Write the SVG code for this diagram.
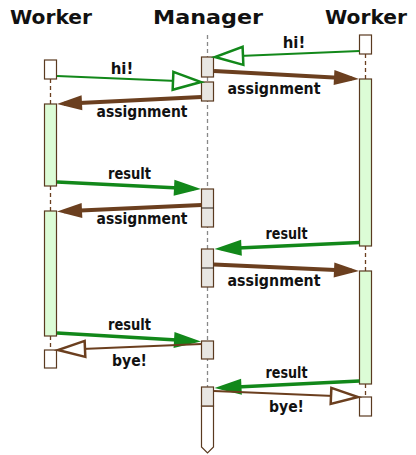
<svg xmlns="http://www.w3.org/2000/svg" width="416" height="455" viewBox="0 0 416 455">
<style>
.title{font-family:"DejaVu Sans","Liberation Sans",sans-serif;font-weight:bold;font-size:20px;fill:#111;text-anchor:middle}
.lbl{font-family:"DejaVu Sans","Liberation Sans",sans-serif;font-weight:bold;font-size:15px;fill:#111;text-anchor:middle}
.box{fill:#fff;stroke:#5a3a20;stroke-width:1.2}
.gbox{fill:#e8e6e2;stroke:#5a3a20;stroke-width:1.2}
.act{fill:#dcfcd6;stroke:#5a3a20;stroke-width:1.2}
.div{stroke:#2a2018;stroke-width:1}
.llw{stroke:#6b3f1f;stroke-width:1.3;stroke-dasharray:4 3}
.llm{stroke:#888;stroke-width:1.3;stroke-dasharray:4 3}
.gthin{stroke:#12881a;stroke-width:2;fill:none}
.gthick{stroke:#12881a;stroke-width:3.5;fill:none}
.bthin{stroke:#6b3f1f;stroke-width:2;fill:none}
.bthick{stroke:#6b3f1f;stroke-width:4;fill:none}
</style>
<defs>
<marker id="bFill" markerUnits="userSpaceOnUse" markerWidth="26" markerHeight="16" refX="18" refY="7.5" orient="auto" overflow="visible">
<path d="M0,0 L25,7.5 L0,15 z" fill="#6b3f1f"/>
</marker>
<marker id="gFill" markerUnits="userSpaceOnUse" markerWidth="28" markerHeight="17" refX="20" refY="8" orient="auto" overflow="visible">
<path d="M0,0 L27,8 L0,16 z" fill="#12881a"/>
</marker>
<marker id="gOpen" markerUnits="userSpaceOnUse" markerWidth="30" markerHeight="20" refX="28" refY="9" orient="auto" overflow="visible">
<path d="M0,0 L28,9 L0,18 z" fill="#fff" stroke="#12881a" stroke-width="2.5" stroke-linejoin="miter"/>
</marker>
<marker id="bOpen" markerUnits="userSpaceOnUse" markerWidth="30" markerHeight="18" refX="27" refY="8" orient="auto" overflow="visible">
<path d="M0,0 L27,8 L0,16 z" fill="#fff" stroke="#6b3f1f" stroke-width="2.5" stroke-linejoin="miter"/>
</marker>
</defs>
<rect width="416" height="455" fill="#fff"/>

<g id="worker-left">
<text class="title" x="51" y="24" textLength="82" lengthAdjust="spacingAndGlyphs">Worker</text>
<line class="llw" x1="50.5" y1="79" x2="50.5" y2="104"/>
<line class="llw" x1="50.5" y1="186" x2="50.5" y2="211"/>
<line class="llw" x1="50.5" y1="336" x2="50.5" y2="350"/>
<rect class="box" x="44.5" y="60" width="12" height="19"/>
<rect class="act" x="44.5" y="104" width="12" height="82"/>
<rect class="act" x="44.5" y="211" width="12" height="125"/>
<rect class="box" x="44.5" y="350" width="12" height="18"/>
</g>

<g id="manager">
<text class="title" x="208" y="24" textLength="110" lengthAdjust="spacingAndGlyphs">Manager</text>
<line class="llm" x1="207.5" y1="35" x2="207.5" y2="387"/>
<rect class="gbox" x="201.5" y="57" width="12" height="20"/>
<rect class="gbox" x="201.5" y="82" width="12" height="19"/>
<rect class="gbox" x="201.5" y="189" width="12" height="38"/>
<line class="div" x1="201.5" y1="208" x2="213.5" y2="208"/>
<rect class="gbox" x="201.5" y="249" width="12" height="38"/>
<line class="div" x1="201.5" y1="268" x2="213.5" y2="268"/>
<rect class="gbox" x="201.5" y="341" width="12" height="18"/>
<path d="M201.5,406 L201.5,447 L207.5,453 L213.5,447 L213.5,406 z" fill="#fff" stroke="#5a3a20" stroke-width="1.2"/>
<rect class="gbox" x="201.5" y="387" width="12" height="19"/>
</g>

<g id="worker-right">
<text class="title" x="366" y="24" textLength="82" lengthAdjust="spacingAndGlyphs">Worker</text>
<line class="llw" x1="365.5" y1="54" x2="365.5" y2="79"/>
<line class="llw" x1="365.5" y1="246" x2="365.5" y2="271"/>
<line class="llw" x1="365.5" y1="384" x2="365.5" y2="397"/>
<rect class="box" x="359.5" y="35" width="12" height="19"/>
<rect class="act" x="359.5" y="79" width="12" height="167"/>
<rect class="act" x="359.5" y="271" width="12" height="113"/>
<rect class="box" x="359.5" y="397" width="12" height="19"/>
</g>

<g id="connectors">
<line class="gthin" x1="359.5" y1="51" x2="215" y2="57" marker-end="url(#gOpen)"/>
<text class="lbl" x="294" y="48">hi!</text>
<line class="gthin" x1="57" y1="76" x2="201" y2="82" marker-end="url(#gOpen)"/>
<text class="lbl" x="122" y="74">hi!</text>
<line class="bthick" x1="214" y1="71" x2="352" y2="78.6" marker-end="url(#bFill)"/>
<text class="lbl" x="274" y="94" textLength="93" lengthAdjust="spacingAndGlyphs">assignment</text>
<line class="bthick" x1="201.5" y1="97" x2="64" y2="103.7" marker-end="url(#bFill)"/>
<text class="lbl" x="142" y="117" textLength="91" lengthAdjust="spacingAndGlyphs">assignment</text>
<line class="gthick" x1="57" y1="182" x2="194" y2="188.7" marker-end="url(#gFill)"/>
<text class="lbl" x="129.5" y="179" textLength="43" lengthAdjust="spacingAndGlyphs">result</text>
<line class="bthick" x1="201.5" y1="205" x2="64" y2="211.2" marker-end="url(#bFill)"/>
<text class="lbl" x="142" y="224" textLength="91" lengthAdjust="spacingAndGlyphs">assignment</text>
<line class="gthick" x1="359.5" y1="242.5" x2="221.5" y2="248.7" marker-end="url(#gFill)"/>
<text class="lbl" x="286.5" y="239" textLength="42" lengthAdjust="spacingAndGlyphs">result</text>
<line class="bthick" x1="214" y1="264.5" x2="352" y2="270.7" marker-end="url(#bFill)"/>
<text class="lbl" x="274" y="286" textLength="93" lengthAdjust="spacingAndGlyphs">assignment</text>
<line class="gthick" x1="57" y1="333" x2="194" y2="341.1" marker-end="url(#gFill)"/>
<text class="lbl" x="129.5" y="330" textLength="43" lengthAdjust="spacingAndGlyphs">result</text>
<line class="bthin" x1="201.5" y1="344" x2="58" y2="350" marker-end="url(#bOpen)"/>
<text class="lbl" x="129.5" y="366" textLength="35" lengthAdjust="spacingAndGlyphs">bye!</text>
<line class="gthick" x1="359.5" y1="381" x2="221.5" y2="387.7" marker-end="url(#gFill)"/>
<text class="lbl" x="286.5" y="378" textLength="42" lengthAdjust="spacingAndGlyphs">result</text>
<line class="bthin" x1="214" y1="391" x2="358" y2="397" marker-end="url(#bOpen)"/>
<text class="lbl" x="286.5" y="412" textLength="35" lengthAdjust="spacingAndGlyphs">bye!</text>
</g>
</svg>
